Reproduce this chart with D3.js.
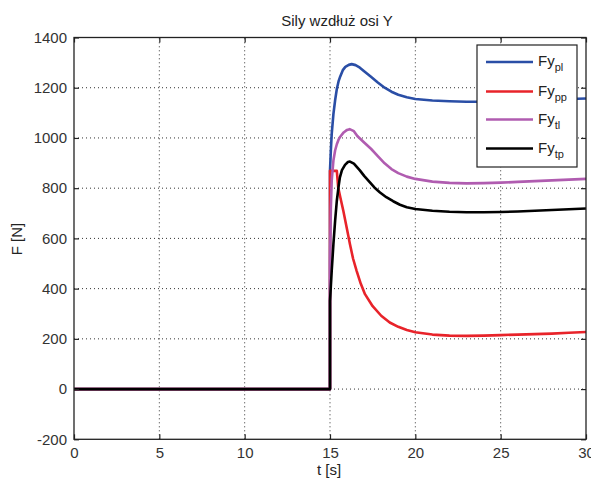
<!DOCTYPE html>
<html><head><meta charset="utf-8">
<script src="https://cdn.jsdelivr.net/npm/d3@7"></script>
<style>body{margin:0;background:#fff}svg{display:block}text{font-family:"Liberation Sans",Arial,sans-serif}</style>
</head><body>
<script>
const title = "Sily wzdłuż osi Y";
const xLabel = "t [s]";
const yLabel = "F [N]";
const xTicks = [0,5,10,15,20,25,30];
const yTicks = [-200,0,200,400,600,800,1000,1200,1400];
const seriesNames = ["pl","pp","tl","tp"];
const seriesColors = ["#2a4ea6","#e8232a","#b05cb0","#000000"];

const tPl = [0,15,15,15.05,15.1,15.2,15.3,15.4,15.5,15.6,15.75,15.9,16.1,16.27,16.5,16.75,17,17.4,17.8,18.2,18.6,19,19.5,20,21,22,23,24,25,26,27,28,29,30];
const fPl = [0,0,870,950,1015,1095,1150,1195,1225,1245,1270,1283,1291,1294,1290,1280,1266,1244,1221,1200,1184,1172,1162,1155,1149,1146,1144,1144,1146,1149,1151,1153,1155,1157];

const tPp = [0,15,15,15.4,15.48,15.6,15.78,16,16.17,16.35,16.56,16.8,17.05,17.5,18,18.5,19,19.5,20,21,22,23,24,25,26,27,28,29,30];
const fPp = [0,0,869,869,803,765,710,635,577,520,471,420,378,330,292,265,248,235,226,217,213,212,213,215,217,219,221,224,227];

const tTl = [0,15,15,15.05,15.1,15.2,15.3,15.4,15.5,15.6,15.8,16,16.15,16.4,16.6,17,17.4,17.8,18.2,18.6,19,19.5,20,21,22,23,24,25,26,27,28,29,30];
const fTl = [0,0,500,720,830,910,950,975,993,1005,1022,1032,1035,1027,1008,982,957,928,899,876,860,846,837,826,821,819,820,822,825,828,831,834,837];

const tTp = [0,15,15,15.1,15.2,15.3,15.4,15.5,15.58,15.7,15.88,16.05,16.17,16.4,16.75,17.0,17.34,17.6,17.93,18.3,18.7,19.1,19.5,20,21,22,23,24,25,26,27,28,29,30];
const fTp = [0,0,350,470,577,670,750,805,843,872,893,904,906,898,871,849,823,803,783,764,748,734,724,717,710,706,704,704,705,707,710,713,716,719];

const seriesT = [tPl,tPp,tTl,tTp];
const seriesF = [fPl,fPp,fTl,fTp];

const W = 591, H = 481;
const m = {left:74, right:5, top:37.5, bottom:41.7};
const svg = d3.select("body").append("svg").attr("width",W).attr("height",H);
const x = d3.scaleLinear().domain([0,30]).range([m.left, W-m.right]);
const y = d3.scaleLinear().domain([-200,1400]).range([H-m.bottom, m.top]);

// grid
const grid = svg.append("g").attr("stroke","#333").attr("stroke-width",1).attr("stroke-dasharray","1,3");
xTicks.slice(1,-1).forEach(v=>grid.append("line").attr("x1",x(v)).attr("x2",x(v)).attr("y1",y(-200)).attr("y2",y(1400)));
yTicks.slice(1,-1).forEach(v=>grid.append("line").attr("y1",y(v)).attr("y2",y(v)).attr("x1",x(0)).attr("x2",x(30)));

// series
const line = d3.line().x(d=>x(d[0])).y(d=>y(d[1]));
[0,1,2,3].forEach(i=>{
  const pts = seriesT[i].map((t,k)=>[t,seriesF[i][k]]);
  svg.append("path").datum(pts).attr("d",line).attr("fill","none")
    .attr("stroke",seriesColors[i]).attr("stroke-width",2.6).attr("stroke-linejoin","round");
});

// axes
const tickLen = 5;
const fmt = d=>String(d);
const xb = d3.axisBottom(x).tickValues(xTicks).tickSize(-tickLen).tickPadding(8).tickFormat(fmt);
const xt = d3.axisTop(x).tickValues(xTicks).tickSize(-tickLen).tickFormat("");
const yl = d3.axisLeft(y).tickValues(yTicks).tickSize(-tickLen).tickPadding(7).tickFormat(fmt);
const yr = d3.axisRight(y).tickValues(yTicks).tickSize(-tickLen).tickFormat("");
function style(g){g.selectAll("path,line").attr("stroke","#222").attr("stroke-width",1.2);g.select(".domain").remove();g.selectAll("text").attr("fill","#333").style("font-size","15px");}
svg.append("g").attr("transform",`translate(0,${y(-200)})`).call(xb).call(style);
svg.append("g").attr("transform",`translate(0,${y(1400)})`).call(xt).call(style);
svg.append("g").attr("transform",`translate(${x(0)},0)`).call(yl).call(style);
svg.append("g").attr("transform",`translate(${x(30)},0)`).call(yr).call(style);
svg.append("rect").attr("x",x(0)).attr("y",y(1400)).attr("width",x(30)-x(0)).attr("height",y(-200)-y(1400))
  .attr("fill","none").attr("stroke","#222").attr("stroke-width",1.3);

// labels
svg.append("text").attr("x",337).attr("y",26).attr("text-anchor","middle").attr("fill","#222").style("font-size","15px").text(title);
svg.append("text").attr("x",329).attr("y",475).attr("text-anchor","middle").attr("fill","#222").style("font-size","15px").text(xLabel);
svg.append("text").attr("transform",`translate(22,239) rotate(-90)`).attr("text-anchor","middle").attr("fill","#222").style("font-size","15px").text(yLabel);

// legend
const lg = svg.append("g");
lg.append("rect").attr("x",477).attr("y",45).attr("width",100).attr("height",122).attr("fill","#fff").attr("stroke","#222").attr("stroke-width",1.2);
const ly = [62,91.5,119.5,148.5];
seriesNames.forEach((n,i)=>{
  lg.append("line").attr("x1",486).attr("x2",533).attr("y1",ly[i]).attr("y2",ly[i]).attr("stroke",seriesColors[i]).attr("stroke-width",2.6);
  const t = lg.append("text").attr("x",538).attr("y",ly[i]+4).attr("fill","#222").style("font-size","15px");
  t.append("tspan").text("Fy");
  t.append("tspan").attr("dy",5).style("font-size","11px").text(n);
});
</script>
</body></html>
